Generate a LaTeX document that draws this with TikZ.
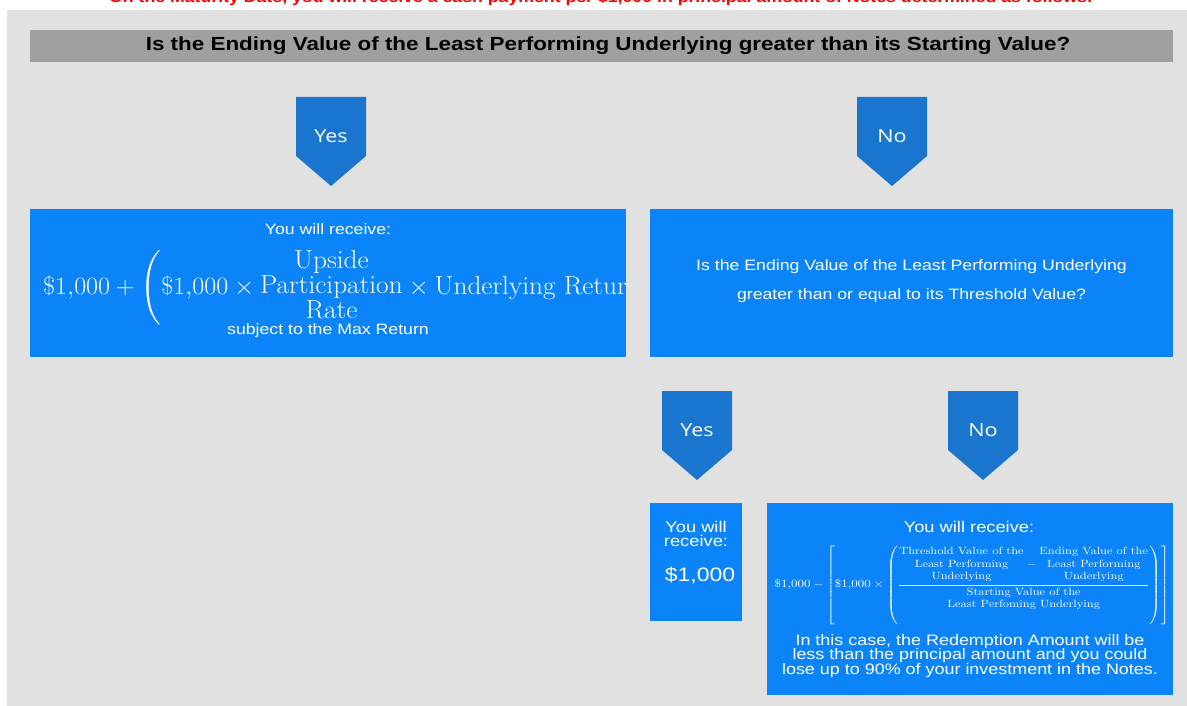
\documentclass[tikz,border=0pt]{standalone}
\usepackage{amsmath}
\usepackage{fontspec}
\setsansfont[FakeStretch=1.18]{Liberation Sans}
\newfontfamily\chevfont[FakeStretch=1.2]{Open Sans}
\usetikzlibrary{positioning}
\definecolor{boxblue}{HTML}{0A84F8}
\definecolor{chevblue}{HTML}{1A75CE}
\definecolor{bargrey}{HTML}{A0A0A0}
\definecolor{backgrey}{HTML}{E1E1E1}

\begin{document}
\begin{tikzpicture}[x=1pt,y=-1pt,
bluebox/.style={fill=boxblue,inner sep=0pt},
chevlabel/.style={text=white,font=\chevfont\fontsize{18}{20}\selectfont},
boxtext/.style={text=white,font=\sffamily\fontsize{15}{17}\selectfont,align=center,inner sep=0pt}]
\useasboundingbox (0,0) rectangle (1187,706);
\fill[backgrey] (7,10) rectangle (1187,706);
\node[text=red,anchor=base,font=\sffamily\bfseries\fontsize{15}{18}\selectfont] (maturity) at (601,3)
 {On the Maturity Date, you will receive a cash payment per \$1,000 in principal amount of Notes determined as follows:};
\node[fill=bargrey,minimum width=1143pt,minimum height=32pt,inner sep=0pt] (question) at (601.5,46) {};
\node[font=\sffamily\bfseries\fontsize{19}{21}\selectfont,inner sep=0pt] (questiontext) at (608,46)
 {Is the Ending Value of the Least Performing Underlying greater than its Starting Value?};
% chevrons
\foreach \x/\y/\name/\lbl in {331/97/yesup/Yes,892/97/noup/No,697/391/yesmid/Yes,983/391/nomid/No}
{\fill[chevblue] (\x-35,\y) -- (\x+35,\y) -- (\x+35,\y+59) -- (\x,\y+89) -- (\x-35,\y+59) -- cycle;
\node[chevlabel] (\name) at (\x,\y+39) {\lbl};}
% upside result
\node[bluebox,minimum width=596pt,minimum height=148pt] (resultup) at (328,283) {};
\node[boxtext] (receiveup) at (328,229) {You will receive:};
\begin{scope}
\clip (resultup.south west) rectangle (resultup.north east);
\node[text=white,anchor=west,inner sep=0pt,font=\fontsize{26}{25}\selectfont] (upformula) at (43,288)
 {\scalebox{1.05}[1]{$\$1{,}000 + \left(\$1{,}000 \times \text{\begin{tabular}{@{}c@{}}Upside\\Participation\\Rate\end{tabular}}
 \times \text{Underlying Return}\right)$}};
\end{scope}
\node[boxtext] (maxreturn) at (328,331) {subject to the Max Return};
% threshold question
\node[bluebox,minimum width=523pt,minimum height=148pt] (threshold) at (911.5,283) {};
\node[boxtext,font=\sffamily\fontsize{15}{29}\selectfont] (thresholdq) at (911.5,281)
 {Is the Ending Value of the Least Performing Underlying\\greater than or equal to its Threshold Value?};
% par result
\node[bluebox,minimum width=92pt,minimum height=118pt] (resultpar) at (696,562) {};
\node[boxtext,font=\sffamily\fontsize{15.5}{14}\selectfont] (receivepar) at (696,534) {You will\\receive:};
\node[boxtext,font=\sffamily\fontsize{19.5}{24}\selectfont] (parvalue) at (700,576) {\$1,000};
% loss result
\node[bluebox,minimum width=406pt,minimum height=192pt] (resultloss) at (970,599) {};
\node[boxtext,font=\sffamily\fontsize{15.5}{17}\selectfont] (receiveloss) at (969,527) {You will receive:};
\node[text=white,inner sep=0pt,font=\fontsize{10.5}{12.5}\selectfont] (lossformula) at (972,585)
 {\scalebox{1.18}[1]{$\$1{,}000 - \left[\$1{,}000 \times \left(\dfrac{\text{\begin{tabular}{@{}c@{}}Threshold Value of the\\Least Performing\\Underlying\end{tabular}}
 - \text{\begin{tabular}{@{}c@{}}Ending Value of the\\Least Performing\\Underlying\end{tabular}}}
 {\text{\begin{tabular}{@{}c@{}}Starting Value of the\\Least Perfoming Underlying\end{tabular}}}\right)\right]$}};
\node[boxtext,font=\sffamily\fontsize{15.2}{14.5}\selectfont] (lossnote) at (970,656)
 {In this case, the Redemption Amount will be\\less than the principal amount and you could\\lose up to 90\% of your investment in the Notes.};
\end{tikzpicture}
\end{document}
